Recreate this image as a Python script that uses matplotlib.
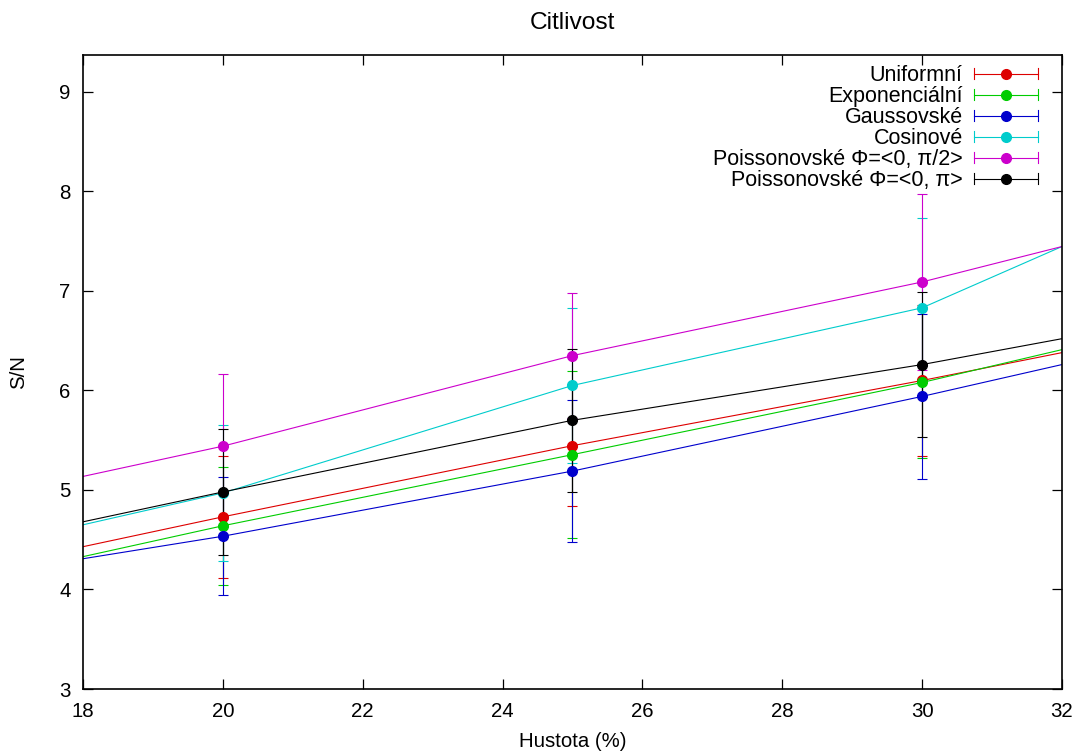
import matplotlib
matplotlib.use('Agg')
import matplotlib.pyplot as plt
from matplotlib.legend_handler import HandlerBase
from matplotlib.lines import Line2D

plt.rcParams['font.family'] = ['Liberation Sans', 'DejaVu Sans']
plt.rcParams['font.size'] = 14.7

# ── DATA (points at 15 and 35 lie outside the visible range) ──────────────────
hustota = [15, 20, 25, 30, 35]

uniform = [3.98, 4.73, 5.445, 6.10, 6.80]
uniform_err = [0.60, 0.61, 0.605, 0.76, 0.76]

expon = [3.865, 4.64, 5.355, 6.08, 6.905]
expon_err = [0.60, 0.59, 0.84, 0.76, 0.80]

gauss = [3.97, 4.535, 5.19, 5.94, 6.74]
gauss_err = [0.60, 0.595, 0.71, 0.83, 0.80]

cosine = [4.17, 4.97, 6.05, 6.83, 8.37]
cosine_err = [0.60, 0.68, 0.78, 0.90, 0.90]

poiss_half = [4.68, 5.44, 6.35, 7.09, 7.98]
poiss_half_err = [0.70, 0.73, 0.63, 0.88, 0.90]

poiss_full = [4.23, 4.98, 5.70, 6.26, 6.91]
poiss_full_err = [0.60, 0.63, 0.72, 0.73, 0.70]

labels = ['Uniformní', 'Exponenciální', 'Gaussovské', 'Cosinové',
          'Poissonovské Φ=<0, π/2>', 'Poissonovské Φ=<0, π>']
colors = ['#dd0000', '#00cc00', '#0000cc', '#00cccc', '#cc00cc', '#000000']
series = [(uniform, uniform_err), (expon, expon_err), (gauss, gauss_err),
          (cosine, cosine_err), (poiss_half, poiss_half_err),
          (poiss_full, poiss_full_err)]


# gnuplot-like key sample: horizontal bar with end caps and a dot
class KeyHandler(HandlerBase):
    def create_artists(self, legend, orig_handle, xdescent, ydescent,
                       width, height, fontsize, trans):
        c = orig_handle.get_color()
        x0 = -xdescent
        x1 = x0 + width
        y = height / 2 - ydescent
        h = 4.0
        arts = [
            Line2D([x0, x1], [y, y], color=c, lw=0.8),
            Line2D([x0, x0], [y - h, y + h], color=c, lw=0.8),
            Line2D([x1, x1], [y - h, y + h], color=c, lw=0.8),
            Line2D([(x0 + x1) / 2], [y], color=c, marker='o', ms=7, lw=0),
        ]
        for a in arts:
            a.set_transform(trans)
        return arts


fig = plt.figure(figsize=(10.82, 7.56), dpi=100)
ax = fig.add_axes([0.0767, 0.0886, 0.9048, 0.8386])

handles = []
for (vals, errs), col, lab in zip(series, colors, labels):
    ax.errorbar(hustota, vals, yerr=errs, color=col, lw=0.8, elinewidth=0.8,
                capsize=3.6, capthick=0.8, marker='o', ms=7, label=lab)
    handles.append(Line2D([], [], color=col))

ax.set_xlim(18, 32)
ax.set_ylim(3, 9.37)
ax.set_xticks(range(18, 33, 2))
ax.set_yticks(range(3, 10))

ax.tick_params(direction='in', length=7, width=0.9, top=True, right=True, pad=9)
for sp in ax.spines.values():
    sp.set_linewidth(1.2)

ax.set_title('Citlivost', pad=19)
ax.set_xlabel('Hustota (%)')
ax.set_ylabel('S/N')
ax.xaxis.set_label_coords(0.5, -0.068)
ax.yaxis.set_label_coords(-0.056, 0.5)

ax.legend(handles, labels, handler_map={Line2D: KeyHandler()},
          loc='upper right', bbox_to_anchor=(0.9755, 0.984), frameon=False,
          markerfirst=False, handlelength=2.95, handletextpad=0.55,
          labelspacing=0.0, borderpad=0, borderaxespad=0, fontsize=15.5)

fig.savefig('out.png', dpi=100)
